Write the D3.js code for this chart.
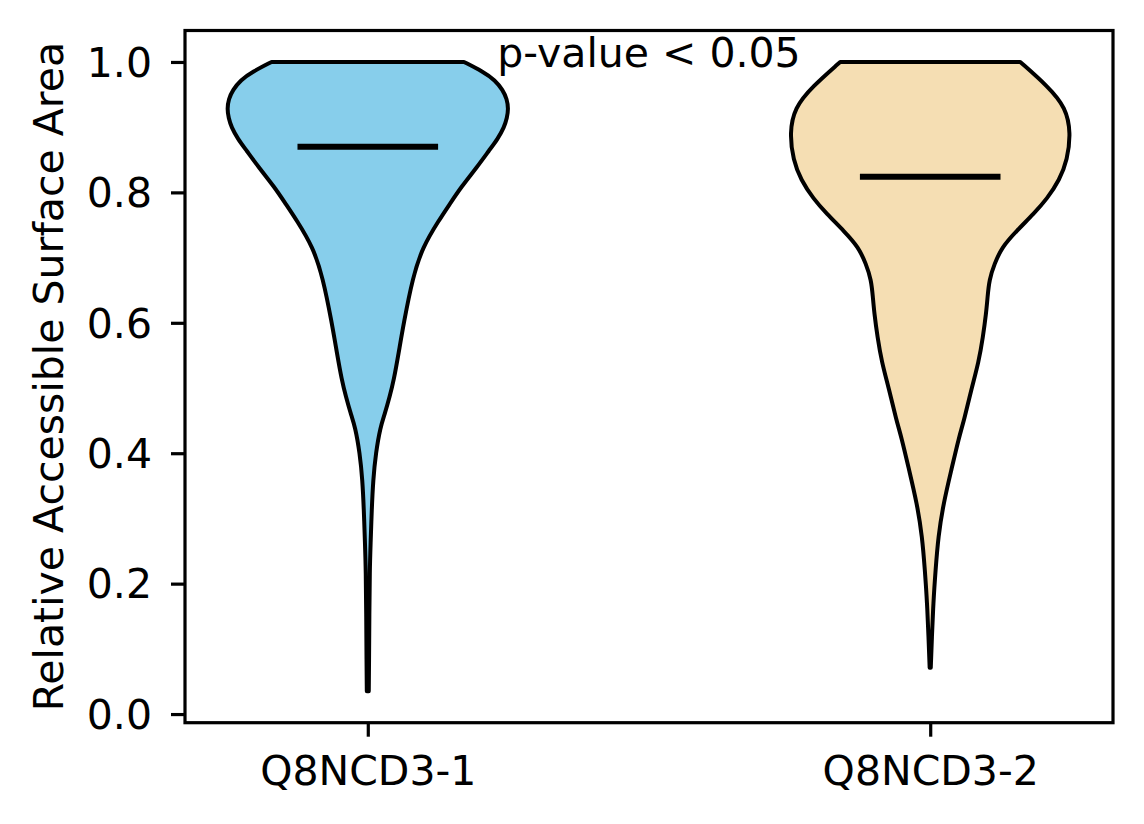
<!DOCTYPE html>
<html>
<head>
<meta charset="utf-8">
<script src="https://cdn.jsdelivr.net/npm/d3@7"></script>
<style>
  body { margin: 0; background: #fff; }
  text { font-family: "DejaVu Sans", sans-serif; fill: #000; }
</style>
</head>
<body>
<svg id="chart" width="1144" height="824"></svg>
<script>
// categories
var groups = ["Q8NCD3-1", "Q8NCD3-2"];
var fills = ["#87ceeb", "#f5deb3"];
var means = [0.87, 0.824];

// violin profiles: RSA value and relative density (1 = widest)
var rsa1 = [1.0, 0.985, 0.972, 0.957, 0.943, 0.928, 0.914, 0.900, 0.882, 0.865, 0.839, 0.808, 0.783, 0.757, 0.716, 0.670, 0.599, 0.553, 0.512, 0.487, 0.461, 0.44, 0.40, 0.359, 0.313, 0.262, 0.221, 0.15, 0.08, 0.035];
var dens1 = [0.684, 0.82, 0.906, 0.96, 0.99, 1.0, 0.99, 0.97, 0.924, 0.865, 0.778, 0.663, 0.586, 0.505, 0.39, 0.32, 0.255, 0.219, 0.185, 0.156, 0.122, 0.089, 0.057, 0.038, 0.028, 0.020, 0.014, 0.011, 0.009, 0.007];

var rsa2 = [1.0, 0.962, 0.93, 0.891, 0.85, 0.819, 0.79, 0.768, 0.74, 0.716, 0.69, 0.666, 0.64, 0.615, 0.578, 0.540, 0.5, 0.45, 0.425, 0.375, 0.323, 0.272, 0.221, 0.17, 0.118, 0.071];
var dens2 = [0.64, 0.84, 0.965, 1.0, 0.975, 0.92, 0.83, 0.74, 0.61, 0.51, 0.456, 0.42, 0.408, 0.398, 0.375, 0.345, 0.295, 0.24, 0.205, 0.151, 0.094, 0.057, 0.038, 0.022, 0.012, 0.004];

var yTicks = [0, 0.2, 0.4, 0.6, 0.8, 1.0];
var pLabel = "p-value < 0.05";

var axL = 185, axR = 1113, axT = 30.5, axB = 722.7;

var svg = d3.select("#chart");

var x = d3.scaleLinear().domain([0.675, 2.325]).range([axL, axR]);
var y = d3.scaleLinear().domain([-0.01325, 1.04825]).range([axB, axT]);
// half width of a violin: widths = 0.5 -> 0.25 units at density 1
var w = d3.scaleLinear().domain([0, 1]).range([0, x(1.25) - x(1)]);

var profiles = [
  d3.zip(rsa1, dens1),
  d3.zip(rsa2, dens2)
];

var area = d3.area()
    .curve(d3.curveBasis)
    .y(function(d) { return y(d[0]); });

profiles.forEach(function(p, i) {
  var cx = x(i + 1);
  svg.append("path")
      .datum(p)
      .attr("d", area.x0(function(d) { return cx - w(d[1]); })
                     .x1(function(d) { return cx + w(d[1]); }))
      .attr("fill", fills[i])
      .attr("stroke", "#000")
      .attr("stroke-width", 4)
      .attr("stroke-linejoin", "round");
});

// mean lines
svg.selectAll(".mean")
    .data(means)
  .enter().append("line")
    .attr("class", "mean")
    .attr("x1", function(d, i) { return x(i + 1 - 0.125); })
    .attr("x2", function(d, i) { return x(i + 1 + 0.125); })
    .attr("y1", function(d) { return y(d); })
    .attr("y2", function(d) { return y(d); })
    .attr("stroke", "#000")
    .attr("stroke-width", 6);

// axes
var yAxis = svg.append("g")
    .attr("transform", "translate(" + axL + ",0)")
    .call(d3.axisLeft(y).tickValues(yTicks).tickFormat(d3.format(".1f"))
      .tickSize(14).tickPadding(19));

var xAxis = svg.append("g")
    .attr("transform", "translate(0," + axB + ")")
    .call(d3.axisBottom(x).tickValues([1, 2]).tickFormat(function(d) { return groups[d - 1]; })
      .tickSize(14).tickPadding(19));

[yAxis, xAxis].forEach(function(g) {
  g.select(".domain").remove();
  g.selectAll("line").attr("stroke", "#000").attr("stroke-width", 3.2);
  g.selectAll("text").attr("font-size", 41).attr("font-family", "DejaVu Sans").attr("fill", "#000");
});
yAxis.selectAll("text").attr("dy", "0.35em");

// frame
svg.append("rect")
    .attr("x", axL).attr("y", axT)
    .attr("width", axR - axL).attr("height", axB - axT)
    .attr("fill", "none")
    .attr("stroke", "#000")
    .attr("stroke-width", 3.2);

svg.append("text")
    .attr("transform", "translate(63," + (axT + axB) / 2 + ") rotate(-90)")
    .attr("text-anchor", "middle")
    .attr("font-size", 41)
    .text("Relative Accessible Surface Area");

svg.append("text")
    .attr("x", x(1.5))
    .attr("y", y(1.0) + 5)
    .attr("text-anchor", "middle")
    .attr("font-size", 41)
    .text(pLabel);
</script>
</body>
</html>
